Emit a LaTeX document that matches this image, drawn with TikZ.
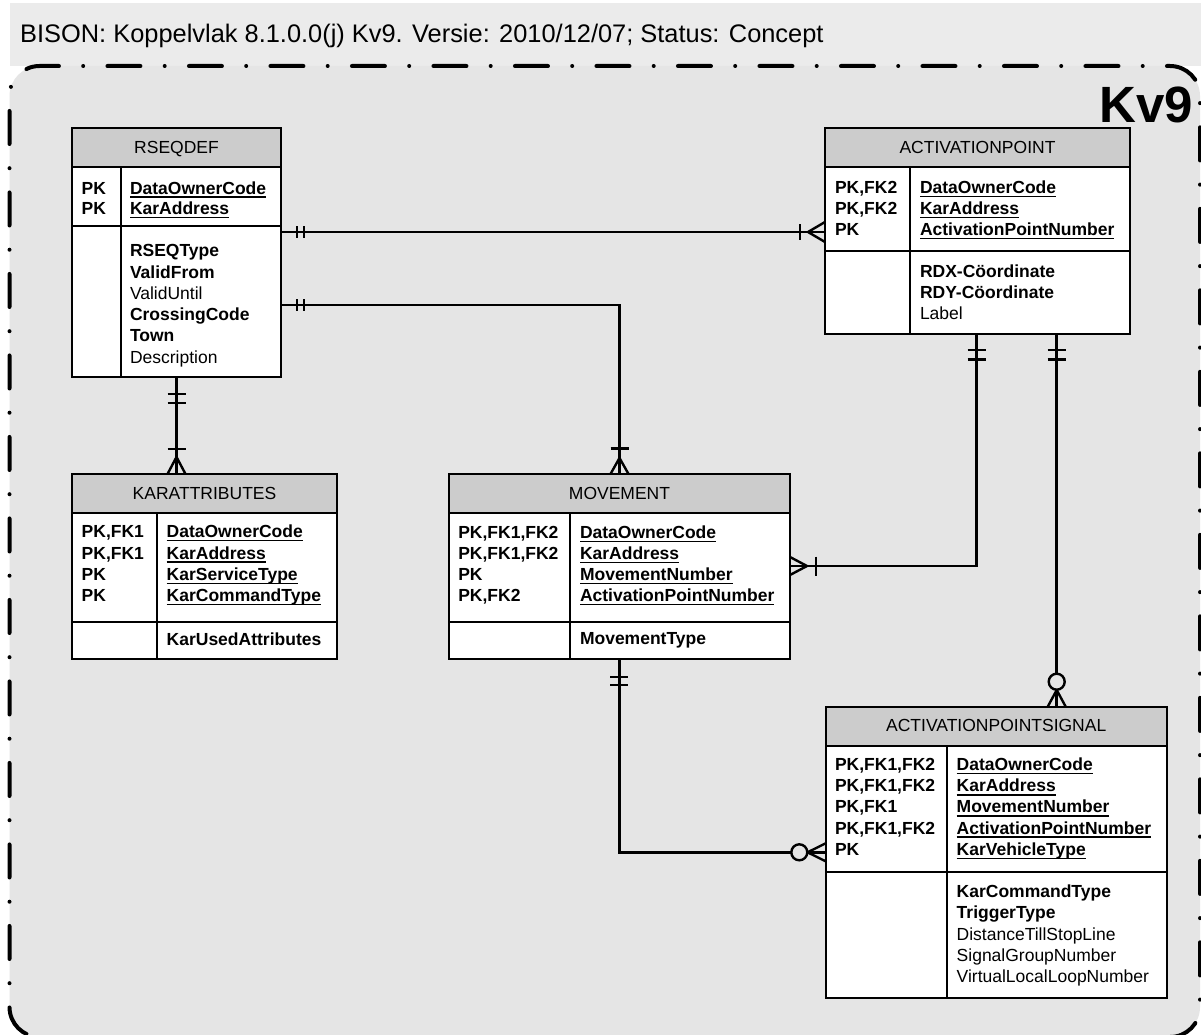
\documentclass[tikz,border=0pt]{standalone}
\usepackage{fontspec}
\setmainfont{Liberation Sans}
\definecolor{headbg}{RGB}{235,235,235}
\definecolor{framebg}{RGB}{229,229,229}
\definecolor{titlebg}{RGB}{204,204,204}
\newcommand\erU[1]{\setbox0=\hbox{#1}\rlap{\rule[-3.7pt]{\wd0}{1.3pt}}\box0}
\newcommand\erK[1]{\textbf{\erU{#1}}}
\newcommand\erB[1]{\textbf{#1}}
\newcommand\ERrows[5]{%
  \foreach \t [count=\i from 0] in {#5}{%
    \node[rowtxt] (#1-\i) at ({#2},{#3+#4*\i}) {\t};}}
\begin{document}
\begin{tikzpicture}[x=1pt,y=-1pt,
  entbox/.style={draw=black, line width=1.8pt, fill=white, rectangle, inner sep=0pt, outer sep=0pt, anchor=north west},
  hdbox/.style={entbox, fill=titlebg},
  boxln/.style={draw=black, line width=1.8pt},
  rowtxt/.style={inner sep=0pt, outer sep=0pt, font=\fontsize{17.5}{20}\selectfont, anchor=base west},
  hdtxt/.style={inner sep=0pt, font=\fontsize{17.5}{20}\selectfont, anchor=base},
  conn/.style={draw=black, line width=2.6pt},
  mk/.style={draw=black, line width=2.4pt, line join=round},
  zeroring/.style={draw=black, line width=2.4pt, fill=framebg},
  frameln/.style={draw=black, line width=4pt, line cap=round, dash pattern=on 33pt off 24.25pt on 0pt off 24.25pt, rounded corners=30pt}
]
\useasboundingbox (0,0) rectangle (1201,1035);
\fill[white] (0,0) rectangle (1201,1035);
\fill[headbg] (10,3) rectangle (1201,66);
\fill[framebg, rounded corners=30pt] (9.5,66) rectangle (1200,1037);
\draw[frameln, dash phase=13.55pt] (39.5,66) -- (1200,66) -- (1200,1037) -- (1000,1037);
\draw[frameln, dash phase=19.45pt] (39.5,66) -- (9.5,66) -- (9.5,1037) -- (200,1037);

\node[anchor=base west, inner sep=0pt, font=\fontsize{25.4}{30}\selectfont] (title) at (20,43) {BISON: Koppelvlak 8.1.0.0(j) Kv9. Versie: 2010/12/07; Status: Concept};
\node[anchor=base west, inner sep=0pt, font=\bfseries\fontsize{51}{56}\selectfont] (kv9) at (1099,123) {Kv9};

% RSEQDEF
\node[entbox, minimum width=209, minimum height=249] (rseq) at (72,128) {};
\node[hdbox, minimum width=209, minimum height=39] (rseq-h) at (72,128) {};
\node[hdtxt] (rseq-t) at (176.5,154) {RSEQDEF};
\draw[boxln] (72,226) -- (281,226);
\draw[boxln] (121,167) -- (121,377);
\ERrows{rseq-k}{81.7}{194}{20.6}{\erB{PK},\erB{PK}}
\ERrows{rseq-p}{130}{194}{20.6}{\erK{DataOwnerCode},\erK{KarAddress}}
\ERrows{rseq-a}{130}{256.7}{21.3}{\erB{RSEQType},\erB{ValidFrom},ValidUntil,\erB{CrossingCode},\erB{Town},Description}

% ACTIVATIONPOINT
\node[entbox, minimum width=305, minimum height=206] (ap) at (825,128) {};
\node[hdbox, minimum width=305, minimum height=39] (ap-h) at (825,128) {};
\node[hdtxt] (ap-t) at (977.5,154) {ACTIVATIONPOINT};
\draw[boxln] (825,251) -- (1130,251);
\draw[boxln] (910,167) -- (910,334);
\ERrows{ap-k}{835}{193.3}{21}{\erB{PK,FK2},\erB{PK,FK2},\erB{PK}}
\ERrows{ap-p}{920}{193.3}{21}{\erK{DataOwnerCode},\erK{KarAddress},\erK{ActivationPointNumber}}
\ERrows{ap-a}{920}{277.7}{21}{\erB{RDX-Cöordinate},\erB{RDY-Cöordinate},Label}

% KARATTRIBUTES
\node[entbox, minimum width=265, minimum height=185] (kar) at (72,474) {};
\node[hdbox, minimum width=265, minimum height=39] (kar-h) at (72,474) {};
\node[hdtxt] (kar-t) at (204.5,499) {KARATTRIBUTES};
\draw[boxln] (72,622) -- (337,622);
\draw[boxln] (157,513) -- (157,659);
\ERrows{kar-k}{81.7}{537.7}{21.3}{\erB{PK,FK1},\erB{PK,FK1},\erB{PK},\erB{PK}}
\ERrows{kar-p}{166.7}{537.7}{21.3}{\erK{DataOwnerCode},\erK{KarAddress},\erK{KarServiceType},\erK{KarCommandType}}
\ERrows{kar-a}{166.7}{645}{21.3}{\erB{KarUsedAttributes}}

% MOVEMENT
\node[entbox, minimum width=341, minimum height=185] (mov) at (449,474) {};
\node[hdbox, minimum width=341, minimum height=39] (mov-h) at (449,474) {};
\node[hdtxt] (mov-t) at (619.5,499) {MOVEMENT};
\draw[boxln] (449,622) -- (790,622);
\draw[boxln] (570.3,513) -- (570.3,659);
\ERrows{mov-k}{458.3}{538.3}{21.1}{\erB{PK,FK1,FK2},\erB{PK,FK1,FK2},\erB{PK},\erB{PK,FK2}}
\ERrows{mov-p}{580}{538.3}{21.1}{\erK{DataOwnerCode},\erK{KarAddress},\erK{MovementNumber},\erK{ActivationPointNumber}}
\ERrows{mov-a}{580}{644}{21.1}{\erB{MovementType}}

% ACTIVATIONPOINTSIGNAL
\node[entbox, minimum width=341, minimum height=291] (aps) at (825.7,706.7) {};
\node[hdbox, minimum width=341, minimum height=39.3] (aps-h) at (825.7,706.7) {};
\node[hdtxt] (aps-t) at (996.2,731.7) {ACTIVATIONPOINTSIGNAL};
\draw[boxln] (825.7,871.7) -- (1166.7,871.7);
\draw[boxln] (946.7,746) -- (946.7,997.7);
\ERrows{aps-k}{835}{770.7}{21.1}{\erB{PK,FK1,FK2},\erB{PK,FK1,FK2},\erB{PK,FK1},\erB{PK,FK1,FK2},\erB{PK}}
\ERrows{aps-p}{956.7}{770.7}{21.1}{\erK{DataOwnerCode},\erK{KarAddress},\erK{MovementNumber},\erK{ActivationPointNumber},\erK{KarVehicleType}}
\ERrows{aps-a}{956.7}{897.7}{21.25}{\erB{KarCommandType},\erB{TriggerType},DistanceTillStopLine,SignalGroupNumber,VirtualLocalLoopNumber}

% connectors
\draw[conn] (rseq.east |- 0,232) -- (ap.west |- 0,232);
\draw[conn] (rseq.east |- 0,305) -| (mov.north);
\draw[conn] (rseq.south) -- (rseq.south |- kar.north);
\draw[conn] (ap.south -| 976.7,0) |- (mov.east |- 0,566);
\draw[conn] (ap.south -| 1056.7,0) -- (aps.north -| 1056.7,0);
\draw[conn] (mov.south) |- (aps.west |- 0,852.3);

% markers C1
\draw[mk] (297,226)--(297,238) (304,226)--(304,238);
\draw[mk] (800,224)--(800,240);
\draw[mk] (825,222)--(808,232)--(825,242);
% C2
\draw[mk] (297,299)--(297,311) (304,299)--(304,311);
\draw[mk] (610.5,448.5)--(628.5,448.5);
\draw[mk] (610.5,474)--(619.5,458)--(628.5,474);
% C3
\draw[mk] (167.5,394)--(185.5,394) (167.5,402.7)--(185.5,402.7);
\draw[mk] (167.5,449)--(185.5,449);
\draw[mk] (167.5,474)--(176.5,457)--(185.5,474);
% C4
\draw[mk] (967.7,350)--(985.7,350) (967.7,359.5)--(985.7,359.5);
\draw[mk] (815.7,556.5)--(815.7,575.5);
\draw[mk] (790,557)--(807,566)--(790,575);
% C5
\draw[mk] (1047.7,350)--(1065.7,350) (1047.7,359.5)--(1065.7,359.5);
\draw[mk] (1047.7,706.7)--(1056.7,690)--(1065.7,706.7);
\draw[zeroring] (1056.7,681.7) circle (8);
% C6
\draw[mk] (610.3,676.7)--(628.3,676.7) (610.3,684.7)--(628.3,684.7);
\draw[mk] (825.7,843.3)--(807.5,852.3)--(825.7,861.3);
\draw[zeroring] (799.3,852.3) circle (8);
\end{tikzpicture}
\end{document}
